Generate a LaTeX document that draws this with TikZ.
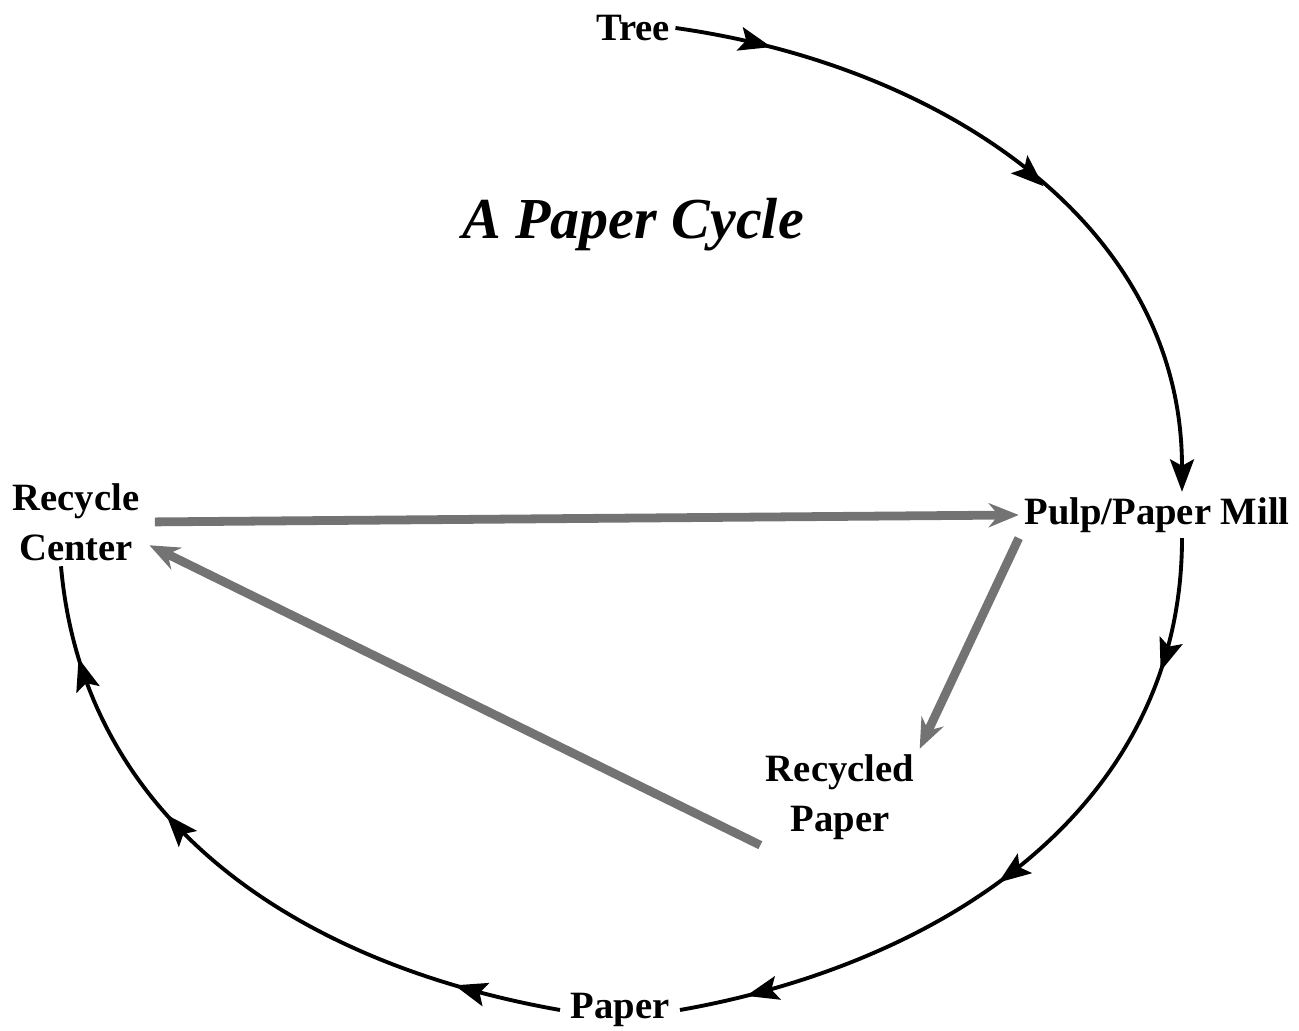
\documentclass[tikz,border=0pt]{standalone}
\usepackage{fontspec}
\setmainfont{Liberation Serif}
\usetikzlibrary{arrows.meta,decorations.markings}
\tikzset{
  >={Stealth[length=6.5mm,width=4.8mm,inset=1.3mm]},
  place/.style={font=\fontsize{22}{28.5}\selectfont\bfseries,align=center,inner sep=3pt},
  ttl/.style={font=\fontsize{33}{38}\selectfont\bfseries\itshape},
  cycline/.style={line width=2.2pt,postaction={decorate}},
  backflow/.style={-{Stealth[length=6mm,width=4.8mm]},line width=5pt,black!55},
}

\begin{document}
\begin{tikzpicture}
  \useasboundingbox (0,0) rectangle (25.98,20.62);
  \node[ttl] (title) at (12.66,16.12) {A Paper Cycle};
  \node[place] (tree) at (12.66,20.06) {Tree};
  \node[place] (mill) at (23.14,10.32) {Pulp/Paper Mill};
  \node[place] (rc) at (1.52,10.18) {Recycle\\Center};
  \node[place] (rp) at (16.8,4.68) {Recycled\\Paper};
  \node[place] (paper) at (12.4,0.42) {Paper};
  % the outer cycle
  \draw[cycline,->,decoration={markings,
      mark=at position 0.13 with {\arrow{>}},
      mark=at position 0.54 with {\arrow{>}}}]
    (tree.east) to[out=-8,in=90] ([xshift=5mm]mill.north);
  \draw[cycline,decoration={markings,
      mark=at position 0.18 with {\arrow{>}},
      mark=at position 0.54 with {\arrow{>}},
      mark=at position 0.91 with {\arrow{>}}}]
    ([xshift=5mm]mill.south) to[out=-90,in=10] ([xshift=1mm]paper.east);
  \draw[cycline,decoration={markings,
      mark=at position 0.15 with {\arrow{>}},
      mark=at position 0.62 with {\arrow{>}},
      mark=at position 0.87 with {\arrow{>}}}]
    ([xshift=-1mm]paper.west) to[out=170,in=-85] ([xshift=-3mm]rc.south);
  % recycling flows
  \draw[backflow,shorten <=2mm] (rc.east) -- (mill.west);
  \draw[backflow] (mill.south west) -- (rp.north east);
  \draw[backflow,shorten >=1mm] (rp.south west) -- (rc.-17);
\end{tikzpicture}
\end{document}
